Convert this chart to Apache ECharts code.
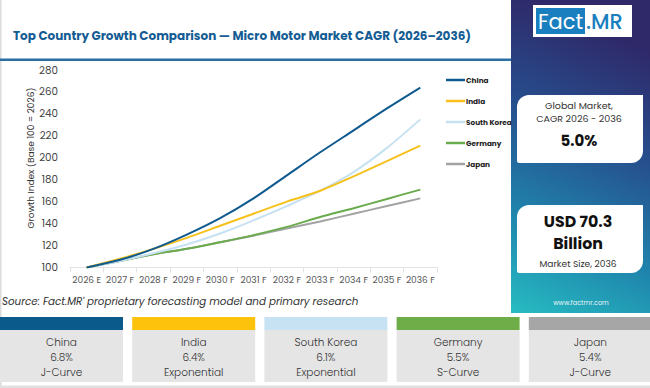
<!DOCTYPE html>
<html>
<head>
<meta charset="utf-8">
<script src="https://cdn.jsdelivr.net/npm/echarts@6/dist/echarts.min.js"></script>
<style>
html,body{margin:0;padding:0;background:#fff;}
#c{width:650px;height:388px;}
</style>
</head>
<body>
<div id="c"></div>
<script>
// ---- data ----
var years = ['2026 E','2027 F','2028 F','2029 F','2030 F','2031 F','2032 F','2033 F','2034 F','2035 F','2036 F'];
var countries = ['China','India','South Korea','Germany','Japan'];
var chinaIdx   = [100,107,117,130,145,163,184,205,225,245,264];
var indiaIdx   = [100,108,117,127,138,149,160,170,183,197,211];
var koreaIdx   = [100,106,113,121,131,143,156,170,187,209,235];
var germanyIdx = [100,106,112,117,123,129.5,137,146,154,162.5,171];
var japanIdx   = [100,106,112,117,123,129,135.5,142,149,156,163];
var cagrLabels = ['6.8%','6.4%','6.1%','5.5%','5.4%'];
var curveTypes = ['J-Curve','Exponential','Exponential','S-Curve','J-Curve'];
var yTicks = [100,120,140,160,180,200,220,240,260,280];
var globalCagr = '5.0%';
var marketSize = 'USD 70.3\nBillion';

var colors = ['#0f5a8e','#f6c11c','#c6e1f2','#6aab4c','#a3a3a3'];
var cardColors = ['#0a5a8c','#fcc20c','#c7e3f3','#6fad48','#a6a6a6'];
var FONT = 'Poppins, "Open Sans", Lato, sans-serif';

var seriesData = [chinaIdx, indiaIdx, koreaIdx, germanyIdx, japanIdx];
var series = countries.map(function(n,i){
  return {
    name:n, type:'line', data:seriesData[i], smooth:0.3, showSymbol:false, symbol:'none',
    lineStyle:{width:2,color:colors[i]}, itemStyle:{color:colors[i]}, z: 10-i
  };
});

// graphics
var g = [];
g.push({type:'rect', shape:{x:0,y:0,width:1.5,height:388}, style:{fill:'#dcdcdc'}, silent:true});
g.push({type:'rect', shape:{x:0,y:385.5,width:650,height:2.5}, style:{fill:'#e0e0e0'}, silent:true});
g.push({type:'rect', shape:{x:0,y:58.5,width:512,height:2.5}, style:{fill:'#2a6ea6'}, silent:true});
// right panel
g.push({type:'rect', shape:{x:511,y:0,width:139,height:313}, silent:true,
  style:{fill:new echarts.graphic.LinearGradient(0.2,0,0,1,[
    {offset:0,color:'#2f2869'},{offset:0.35,color:'#264f8e'},{offset:0.7,color:'#1f86ad'},{offset:1,color:'#27bcc2'}])}});
// logo
g.push({type:'rect', shape:{x:533,y:5,width:99,height:32}, style:{fill:'#ffffff'}, silent:true});
g.push({type:'rect', shape:{x:536,y:8,width:49,height:26}, style:{fill:'#1a7fbf'}, silent:true});
g.push({type:'text', x:560.5, y:21.5, style:{text:'Fact', fill:'#ffffff', font:'400 21px '+FONT, align:'center', verticalAlign:'middle'}});
g.push({type:'text', x:586, y:21.5, style:{text:'.MR', fill:'#1a7fbf', font:'500 21px '+FONT, verticalAlign:'middle'}});
// box 1
g.push({type:'rect', shape:{x:517,y:95,width:126,height:68,r:[12,0,12,2]}, style:{fill:'#ffffff'}, silent:true});
g.push({type:'text', x:579, y:111.5, style:{text:'Global Market,\nCAGR 2026 - 2036', fill:'#333', font:'400 9.5px '+FONT, lineHeight:13, align:'center', verticalAlign:'middle'}});
g.push({type:'text', x:579, y:140, style:{text:globalCagr, fill:'#111', font:'700 15px '+FONT, align:'center', verticalAlign:'middle'}});
// box 2
g.push({type:'rect', shape:{x:517,y:205,width:126,height:68,r:[12,0,12,2]}, style:{fill:'#ffffff'}, silent:true});
g.push({type:'text', x:578, y:232.5, style:{text:marketSize, fill:'#111', font:'700 15.8px '+FONT, lineHeight:21.5, align:'center', verticalAlign:'middle'}});
g.push({type:'text', x:578, y:263.5, style:{text:'Market Size, 2036', fill:'#333', font:'400 9.1px '+FONT, align:'center', verticalAlign:'middle'}});
g.push({type:'text', x:581, y:302, style:{text:'www.factmr.com', fill:'#e8f4f8', font:'400 6.5px '+FONT, align:'center', verticalAlign:'middle'}});
// source
g.push({type:'text', x:2, y:301, style:{text:"Source: Fact.MR' proprietary forecasting model and primary research", fill:'#333', font:'italic 400 10.3px '+FONT, verticalAlign:'middle'}});
// y axis name
g.push({type:'text', x:31, y:158, rotation:Math.PI/2, style:{text:'Growth Index (Base 100 = 2026)', fill:'#333', font:'400 9px '+FONT, align:'center', verticalAlign:'middle'}});
// cards
countries.forEach(function(n,i){
  var x = i*132.2, w = (i===4)? 650-x : 123;
  var cx = x + 61.5;
  g.push({type:'rect', shape:{x:x,y:317,width:w,height:13}, style:{fill:cardColors[i]}, silent:true});
  g.push({type:'rect', shape:{x:x,y:330,width:w,height:52}, style:{fill:'#e5e5e5'}, silent:true});
  g.push({type:'text', x:cx, y:357.5, style:{text:n+'\n'+cagrLabels[i]+'\n'+curveTypes[i], fill:'#333', font:'300 10.5px '+FONT, lineHeight:15, align:'center', verticalAlign:'middle'}});
});

var chart = echarts.init(document.getElementById('c'), null, {renderer:'svg'});
chart.setOption({
  animation:false,
  backgroundColor:'#ffffff',
  textStyle:{fontFamily:FONT},
  title:{text:'Top Country Growth Comparison \u2014 Micro Motor Market CAGR (2026\u20132036)', left:8, top:24,
    textStyle:{color:'#145c93', fontSize:12, fontWeight:'bold', fontFamily:FONT}},
  legend:{orient:'vertical', left:441, top:70, itemWidth:19, itemHeight:2.5, itemGap:11, icon:'rect',
    data:countries, textStyle:{fontSize:7.3, fontWeight:'bold', color:'#222', lineHeight:10, padding:[0,0,0,-4]}},
  grid:{left:70, right:213, top:70, bottom:120.5, containLabel:false},
  xAxis:{type:'category', data:years, boundaryGap:true,
    axisLine:{show:true, lineStyle:{color:'#e2e2e2', width:1}},
    axisTick:{show:true, lineStyle:{color:'#e2e2e2'}, length:5},
    axisLabel:{color:'#555', fontSize:9, margin:8, interval:0}},
  yAxis:{type:'value', min:100, max:280, interval:20,
    axisLine:{show:false}, axisTick:{show:false}, splitLine:{show:false},
    axisLabel:{color:'#444', fontSize:10.3, margin:12}},
  series:series,
  graphic:g
});
</script>
</body>
</html>
